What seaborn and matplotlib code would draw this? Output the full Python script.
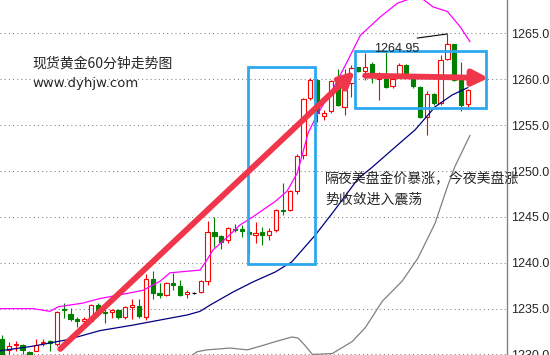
import numpy as np
import pandas as pd
import matplotlib.pyplot as plt
import seaborn as sns
from matplotlib.patches import Rectangle

sns.set_style("white")
plt.rcParams['font.family'] = ['Noto Sans CJK SC', 'DejaVu Sans']

# 60 minute gold bars
opens = [1231.7, 1230.5, 1231.0, 1231.0, 1230.3, 1230.4, 1231.2, 1231.5, 1231.1, 1235.0,
         1234.4, 1233.9, 1233.7, 1233.7, 1235.4, 1234.6, 1234.6, 1234.8, 1234.1, 1235.2,
         1235.3, 1234.1, 1238.2, 1236.7, 1236.5, 1237.8, 1237.5, 1236.6, 1236.7, 1236.8,
         1238.0, 1243.4, 1242.9, 1242.5, 1243.7, 1243.7, 1243.3, 1243.0, 1243.3, 1243.0,
         1243.6, 1245.8, 1245.8, 1247.8, 1251.7, 1258.0, 1259.9, 1256.0, 1256.5, 1259.8,
         1257.0, 1259.6, 1261.3, 1260.9, 1261.7, 1260.0, 1260.0, 1259.3, 1260.4, 1261.6,
         1260.0, 1259.2, 1255.9, 1258.4, 1257.4, 1262.2, 1263.8, 1259.9, 1257.3]
highs = [1232.1, 1231.4, 1231.5, 1231.1, 1230.4, 1231.7, 1231.7, 1231.6, 1234.7, 1235.6,
         1235.1, 1234.1, 1234.1, 1235.5, 1235.6, 1235.1, 1235.0, 1235.0, 1235.3, 1236.0,
         1236.1, 1238.8, 1239.1, 1237.8, 1237.9, 1238.9, 1238.1, 1237.0, 1236.8, 1238.1,
         1244.5, 1245.0, 1243.0, 1243.9, 1244.2, 1244.1, 1243.9, 1244.4, 1243.9, 1243.8,
         1245.9, 1248.7, 1247.9, 1251.9, 1258.0, 1260.2, 1260.0, 1256.7, 1259.9, 1261.1,
         1261.1, 1261.6, 1261.4, 1262.9, 1261.9, 1260.8, 1263.0, 1260.3, 1261.8, 1261.7,
         1260.0, 1259.3, 1258.7, 1258.5, 1262.7, 1264.95, 1263.9, 1261.9, 1259.0]
lows = [1229.5, 1230.1, 1230.4, 1230.1, 1229.5, 1230.4, 1230.9, 1230.4, 1230.9, 1234.0,
        1233.7, 1233.0, 1233.2, 1233.6, 1234.2, 1233.4, 1234.0, 1233.9, 1233.9, 1233.9,
        1234.0, 1233.8, 1236.1, 1236.2, 1236.4, 1237.0, 1236.4, 1236.2, 1236.6, 1236.7,
        1237.6, 1241.7, 1241.5, 1242.1, 1243.4, 1242.8, 1241.0, 1242.1, 1241.9, 1242.5,
        1243.3, 1245.2, 1245.6, 1247.5, 1251.3, 1257.7, 1255.3, 1255.6, 1256.3, 1257.1,
        1256.1, 1258.1, 1260.8, 1259.9, 1259.6, 1257.8, 1259.1, 1259.1, 1260.2, 1260.2,
        1259.1, 1255.8, 1253.9, 1257.2, 1257.2, 1262.1, 1259.8, 1256.5, 1257.0]
closes = [1229.9, 1230.9, 1231.1, 1230.5, 1229.9, 1231.0, 1231.4, 1231.2, 1234.6, 1234.9,
          1233.9, 1233.7, 1233.9, 1235.4, 1234.7, 1234.5, 1234.8, 1234.1, 1235.2, 1235.4,
          1234.2, 1238.2, 1236.7, 1236.5, 1237.8, 1237.6, 1236.5, 1236.8, 1236.7, 1238.0,
          1243.3, 1242.9, 1242.3, 1243.8, 1243.6, 1243.5, 1243.1, 1243.2, 1243.0, 1243.5,
          1245.8, 1245.6, 1247.8, 1251.6, 1257.9, 1259.9, 1256.3, 1256.3, 1259.8, 1257.2,
          1258.8, 1261.2, 1260.9, 1261.3, 1260.6, 1260.2, 1259.2, 1260.0, 1261.6, 1260.4,
          1259.3, 1255.9, 1258.4, 1257.4, 1262.1, 1263.8, 1259.9, 1257.2, 1258.8]

# indicator lines (bar index, price)
upper_x = [-0.3, 4.5, 7.0, 8.2, 11.8, 14.3, 17.2, 20.6, 23.1, 24.5, 28.9, 29.9, 30.8, 32.9, 34.7,
           36.6, 39.9, 41.6, 43.1, 44.7, 46.1, 48.2, 50.5, 52.3, 55.2, 57.7, 59.6, 61.5, 62.9,
           65.0, 66.9, 68.3]
upper_y = [1235.0, 1235.0, 1234.7, 1235.2, 1235.6, 1236.1, 1236.5, 1237.0, 1238.0, 1238.9, 1239.2,
           1240.3, 1241.4, 1242.8, 1244.1, 1245.0, 1246.7, 1247.8, 1249.8, 1254.2, 1256.3, 1258.8,
           1262.1, 1264.8, 1266.8, 1268.3, 1268.8, 1268.7, 1267.9, 1267.4, 1265.7, 1264.1]
mid_x = [-0.3, 4.5, 9.5, 14.3, 19.1, 24.1, 27.0, 28.9, 30.4, 33.7, 36.6, 39.9, 42.3, 45.7, 48.3,
         52.0, 54.0, 56.9, 60.3, 63.2, 65.7, 68.0]
mid_y = [1230.4, 1230.9, 1231.6, 1232.6, 1233.2, 1233.9, 1234.3, 1234.7, 1235.4, 1236.8, 1237.9,
         1239.0, 1240.1, 1243.0, 1245.5, 1249.2, 1250.4, 1252.3, 1254.5, 1257.0, 1258.3, 1259.1]
low_x = [26.7, 28.5, 29.9, 33.3, 35.8, 37.7, 39.9, 42.3, 43.2, 44.2, 45.3, 48.2, 51.1, 53.0,
         55.5, 58.4, 60.7, 63.2, 65.1, 66.1, 68.3]
low_y = [1229.4, 1230.3, 1230.5, 1230.7, 1230.5, 1230.9, 1231.4, 1231.9, 1231.8, 1231.0, 1230.0,
         1230.1, 1231.4, 1232.9, 1235.8, 1238.0, 1240.5, 1244.3, 1248.5, 1250.5, 1253.9]

ticks = [1230, 1235, 1240, 1245, 1250, 1255, 1260, 1265]

df = pd.DataFrame({'open': opens, 'high': highs, 'low': lows, 'close': closes})
df['idx'] = np.arange(len(df))
df['color'] = np.where(df['close'] > df['open'], '#FF0000',
                       np.where(df['close'] < df['open'], '#008000', '#000000'))
df['face'] = np.where(df['close'] > df['open'], 'white', df['color'])

fig = plt.figure(figsize=(5.5, 3.55), dpi=100)
ax = fig.add_axes([0, -0.0243, 0.9218, 1.0333])

# candles
ax.vlines(df['idx'], df['low'], df['high'], colors=df['color'], lw=0.8, zorder=2)
ax.bar(df['idx'], df['close'] - df['open'], bottom=df['open'], width=0.62,
       color=df['face'], edgecolor=df['color'], linewidth=0.8, zorder=3)

# bands and average
sns.lineplot(x=upper_x, y=upper_y, ax=ax, color='#FF00FF', lw=0.9, zorder=4)
sns.lineplot(x=low_x, y=low_y, ax=ax, color='#808080', lw=0.9, zorder=4)
sns.lineplot(x=mid_x, y=mid_y, ax=ax, color='#000080', lw=0.9, zorder=4)

# 1264.95 high marker
ax.plot([60.6, 65], [1264.5, 1264.95], color='black', lw=0.8, zorder=4)
ax.text(54.3, 1263.0, '1264.95', fontsize=9, family='Liberation Sans', va='baseline', zorder=7)

# boxes
box_c = '#2EA8F0'
ax.add_patch(Rectangle((35.9, 1239.9), 9.8, 21.45, fill=False, ec=box_c, lw=2.0, zorder=5))
ax.add_patch(Rectangle((51.5, 1256.85), 19.2, 6.25, fill=False, ec=box_c, lw=2.0, zorder=5))

# arrows
arrow_c = '#F0364A'
aprops = dict(arrowstyle='-|>,head_length=0.9,head_width=0.45', lw=4.2, color=arrow_c,
              shrinkA=0, shrinkB=0)
ax.annotate('', xy=(51.5, 1260.9), xytext=(8.5, 1230.6), arrowprops=aprops, zorder=6)
ax.annotate('', xy=(71.0, 1260.15), xytext=(53.0, 1260.4), arrowprops=aprops, zorder=6)

ax.set_xlim(-0.292, 73.7)
ax.set_ylim(1229, 1269)
ax.set_xticks([])
ax.set_yticks(ticks)
ax.set_yticklabels([f'{t:.1f}' for t in ticks], fontsize=9, family='Liberation Sans')
ax.yaxis.tick_right()
ax.tick_params(axis='y', length=0, pad=3)
for t in ticks:
    ax.axhline(t, color='#808080', lw=0.75, ls=(0, (1, 3)), zorder=1)
for s in ['left', 'top', 'bottom']:
    ax.spines[s].set_visible(False)
ax.spines['right'].set_color('#808080')
ax.spines['right'].set_linewidth(1.0)

# notes
fig.text(32 / 550, 1 - 63.5 / 355, '现货黄金60分钟走势图', fontsize=10, va='center')
fig.text(32 / 550, 1 - 83 / 355, 'www.dyhjw.com', fontsize=9.5, family='DejaVu Sans', va='center')
fig.text(325 / 550, 1 - 179 / 355, '隔夜美盘金价暴涨，今夜美盘涨', fontsize=10, va='center')
fig.text(325 / 550, 1 - 199.5 / 355, '势收敛进入震荡', fontsize=10, va='center')

fig.savefig('out.png', dpi=100)
